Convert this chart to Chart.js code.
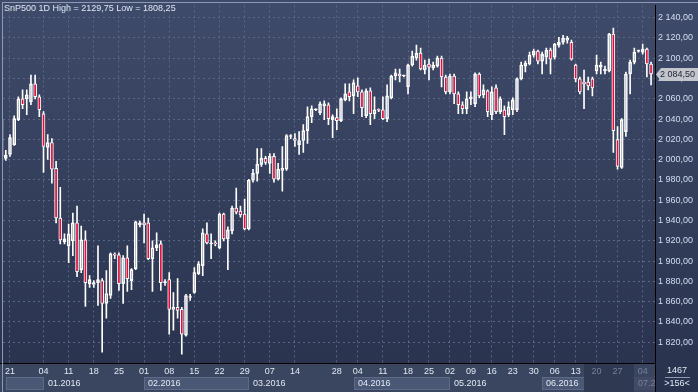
<!DOCTYPE html>
<html>
<head>
<meta charset="utf-8">
<script src="https://cdn.jsdelivr.net/npm/chart.js@4.4.0/dist/chart.umd.min.js"></script>
<style>
  html, body { margin: 0; padding: 0; background: #2c3653; }
  #wrap { width: 698px; height: 392px; }
</style>
</head>
<body>
<div id="wrap"><canvas id="c" width="698" height="392"></canvas></div>
<script>
// daily bars, SnP500 futures, Dec 2015 - Jul 2016 (one entry per bar)
const opens = [
  2003.2, 2001.2, 2005.1, 2014.9, 2039.4, 2060.0, 2060.0, 2057.1, 2074.7, 2062.0,
  2045.3, 2012.0, 2016.9, 1991.4, 1942.5, 1918.9, 1915.0, 1919.9, 1937.6, 1891.5,
  1920.9, 1877.8, 1876.9, 1878.8, 1880.8, 1858.2, 1866.1, 1906.2, 1906.2, 1877.8,
  1903.3, 1880.8, 1892.5, 1935.6, 1937.6, 1937.6, 1902.3, 1913.1, 1917.0, 1878.8,
  1881.7, 1852.4, 1854.3, 1852.4, 1826.9, 1864.1, 1869.0, 1887.6, 1895.5, 1926.8,
  1917.0, 1918.0, 1913.1, 1946.4, 1921.9, 1929.7, 1952.3, 1949.3, 1946.4, 1931.7,
  1979.7, 1986.5, 1995.4, 2001.2, 1996.3, 2003.2, 1980.7, 1989.5, 1990.5, 2022.8,
  2020.8, 2014.9, 2018.9, 2028.6, 2042.4, 2049.2, 2046.3, 2053.1, 2054.1, 2039.4,
  2041.4, 2038.5, 2059.0, 2066.9, 2062.9, 2072.7, 2066.9, 2043.3, 2067.8, 2045.3,
  2049.2, 2049.2, 2040.4, 2061.0, 2082.5, 2084.5, 2082.5, 2071.7, 2093.3, 2100.2,
  2105.1, 2088.4, 2094.3, 2090.4, 2092.3, 2100.2, 2081.5, 2066.9, 2082.5, 2064.9,
  2054.1, 2050.2, 2060.0, 2055.1, 2084.5, 2063.9, 2067.8, 2044.3, 2070.8, 2047.3,
  2049.2, 2044.3, 2049.2, 2049.2, 2079.6, 2092.3, 2094.3, 2103.1, 2107.0, 2097.2,
  2101.1, 2108.0, 2101.1, 2112.9, 2115.8, 2117.8, 2115.8, 2093.3, 2079.6, 2076.6,
  2076.6, 2079.6, 2087.4, 2091.3, 2087.4, 2087.4, 2123.7, 2019.8, 1992.4, 2027.7,
  2084.5, 2096.2, 2107.0, 2106.0, 2109.0, 2094.3
];
const highs = [
  2041.4, 2009.1, 2024.7, 2043.3, 2062.0, 2068.8, 2068.8, 2083.5, 2083.5, 2063.9,
  2047.3, 2024.7, 2020.8, 1998.3, 1972.8, 1926.8, 1936.6, 1947.4, 1954.2, 1934.6,
  1929.7, 1885.7, 1880.8, 1915.0, 1882.7, 1890.6, 1908.2, 1908.2, 1908.2, 1905.3,
  1915.0, 1892.5, 1939.5, 1939.5, 1946.4, 1942.5, 1919.9, 1927.8, 1919.9, 1881.7,
  1888.6, 1869.0, 1882.7, 1854.3, 1867.1, 1867.1, 1893.5, 1899.4, 1931.7, 1937.6,
  1926.8, 1919.9, 1947.4, 1947.4, 1933.7, 1954.2, 1971.9, 1954.2, 1961.1, 1980.7,
  1990.5, 2011.0, 2011.0, 2003.2, 2006.1, 2006.1, 1996.3, 2013.0, 2024.7, 2024.7,
  2025.7, 2027.7, 2034.5, 2052.2, 2053.1, 2050.2, 2057.1, 2058.0, 2056.1, 2044.3,
  2050.2, 2061.0, 2074.7, 2074.7, 2078.6, 2080.6, 2068.8, 2069.8, 2070.8, 2062.0,
  2050.2, 2062.0, 2073.7, 2083.5, 2089.4, 2089.4, 2083.5, 2094.3, 2107.0, 2112.9,
  2110.0, 2098.2, 2099.2, 2096.2, 2102.1, 2102.1, 2083.5, 2084.5, 2084.5, 2066.9,
  2057.1, 2066.9, 2066.9, 2085.5, 2085.5, 2073.7, 2068.8, 2071.7, 2073.7, 2062.0,
  2053.1, 2057.1, 2061.0, 2080.6, 2096.2, 2097.2, 2106.0, 2109.0, 2108.0, 2106.0,
  2110.0, 2110.0, 2114.8, 2120.7, 2122.7, 2121.7, 2117.8, 2094.3, 2081.5, 2088.4,
  2081.5, 2081.5, 2103.1, 2096.2, 2092.3, 2124.5, 2129.75, 2032.6, 2040.4, 2086.4,
  2098.2, 2110.0, 2108.0, 2113.9, 2110.0, 2096.2
];
const lows = [
  2000.3, 1999.3, 2003.2, 2014.0, 2038.5, 2050.2, 2044.3, 2054.1, 2060.0, 2042.4,
  1987.5, 2000.3, 1976.8, 1937.6, 1917.0, 1917.0, 1898.4, 1905.3, 1884.7, 1888.6,
  1855.3, 1873.9, 1873.9, 1856.3, 1810.2, 1843.6, 1863.1, 1902.3, 1871.0, 1858.2,
  1870.0, 1871.9, 1891.5, 1933.7, 1918.0, 1901.3, 1870.0, 1910.2, 1871.0, 1875.9,
  1827.9, 1831.8, 1843.6, 1808.25, 1825.9, 1861.2, 1868.0, 1886.6, 1885.7, 1917.0,
  1902.3, 1915.0, 1912.1, 1919.9, 1891.5, 1926.8, 1946.4, 1943.4, 1930.7, 1930.7,
  1977.7, 1978.7, 1993.4, 1995.4, 1986.5, 1977.7, 1979.7, 1968.9, 1989.5, 2020.8,
  2013.0, 2005.1, 2007.1, 2015.9, 2036.5, 2048.2, 2044.3, 2039.4, 2034.5, 2021.8,
  2029.6, 2037.5, 2058.0, 2058.0, 2045.3, 2062.0, 2042.4, 2041.4, 2034.5, 2040.4,
  2047.3, 2039.4, 2037.5, 2060.0, 2078.6, 2076.6, 2081.5, 2064.9, 2092.3, 2098.2,
  2088.4, 2084.5, 2078.6, 2088.4, 2091.3, 2071.7, 2064.9, 2064.9, 2055.1, 2045.3,
  2045.3, 2045.3, 2054.1, 2052.2, 2061.0, 2061.0, 2042.4, 2039.4, 2045.3, 2045.3,
  2024.7, 2042.4, 2044.3, 2047.3, 2078.6, 2086.4, 2093.3, 2101.1, 2094.3, 2084.5,
  2094.3, 2084.5, 2099.2, 2110.9, 2113.9, 2114.8, 2098.2, 2076.6, 2064.9, 2050.2,
  2068.8, 2062.9, 2084.5, 2084.5, 2084.5, 2086.4, 2007.1, 1990.5, 1991.4, 2022.8,
  2064.9, 2094.3, 2106.0, 2104.1, 2081.5, 2073.7
];
const closes = [
  2039.4, 2004.2, 2021.8, 2040.4, 2060.0, 2054.1, 2063.9, 2074.7, 2062.0, 2049.2,
  2013.0, 2016.9, 1990.5, 1942.5, 1920.9, 1921.9, 1926.8, 1937.6, 1889.6, 1920.9,
  1878.8, 1881.7, 1878.8, 1881.7, 1858.2, 1868.0, 1907.2, 1905.8, 1877.8, 1903.3,
  1882.7, 1891.5, 1938.6, 1937.6, 1935.6, 1902.3, 1913.1, 1916.0, 1878.8, 1879.3,
  1852.4, 1854.3, 1851.4, 1827.9, 1866.1, 1864.6, 1888.6, 1897.4, 1927.8, 1918.0,
  1918.0, 1917.0, 1946.4, 1921.9, 1930.7, 1952.3, 1948.3, 1945.4, 1931.7, 1979.7,
  1986.5, 1995.4, 2001.2, 1997.3, 2003.2, 1980.7, 1990.5, 1991.4, 2023.8, 2023.3,
  2018.9, 2018.9, 2028.6, 2042.4, 2050.2, 2049.2, 2055.1, 2055.1, 2040.4, 2042.4,
  2038.5, 2060.0, 2064.9, 2062.0, 2075.7, 2066.9, 2051.2, 2067.8, 2045.3, 2049.2,
  2048.7, 2040.4, 2062.9, 2082.5, 2085.5, 2082.5, 2082.5, 2093.3, 2102.1, 2105.1,
  2089.4, 2093.3, 2091.3, 2093.3, 2100.2, 2081.5, 2066.9, 2082.5, 2064.9, 2054.1,
  2050.2, 2060.0, 2062.0, 2084.5, 2062.9, 2068.8, 2047.3, 2066.9, 2047.3, 2060.0,
  2042.4, 2052.2, 2059.0, 2079.6, 2093.3, 2095.3, 2103.1, 2107.0, 2097.2, 2104.1,
  2108.0, 2099.2, 2113.9, 2115.8, 2119.7, 2119.7, 2099.2, 2079.6, 2066.9, 2074.7,
  2072.7, 2070.8, 2093.3, 2093.3, 2089.4, 2123.7, 2028.6, 1993.4, 2039.4, 2084.5,
  2096.2, 2106.0, 2107.0, 2109.0, 2094.3, 2084.5
];

// weekly axis labels (bar index of the week start)
const weekIdx = [2, 10, 16, 22, 28, 34, 40, 46, 52, 58, 64, 70, 80, 85, 91, 97, 102, 107, 112, 117, 122, 127, 132, 137, 142, 147, 153];
const weekLabels = ['21', '04', '11', '18', '25', '01', '08', '15', '22', '29', '07', '14', '28', '04', '11', '18', '25', '02', '09', '16', '23', '30', '06', '13', '20', '27', '04'];
// month strip
const monthIdx = [1, 10, 34, 59, 84, 107, 129, 151];
const monthLabels = ['', '01.2016', '02.2016', '03.2016', '04.2016', '05.2016', '06.2016', '07.2016'];
const greyFrom = 139;
const priceTicks = [1820, 1840, 1860, 1880, 1900, 1920, 1940, 1960, 1980, 2000, 2020, 2040, 2060, 2080, 2100, 2120, 2140];

const RED = '#e0103c';
const idx = opens.map((o, i) => i);

function fmtPrice(v) {
  const parts = v.toFixed(2).split('.');
  return parts[0].replace(/\B(?=(\d{3})+(?!\d))/g, ' ') + ',' + parts[1];
}

const stripPlugin = {
  id: 'strip',
  beforeDraw(chart) {
    const { ctx, chartArea: a, scales: { x } } = chart;
    const W = chart.width, H = chart.height;
    const g = ctx.createLinearGradient(0, 0, 0, H);
    g.addColorStop(0, '#3f4b6a');
    g.addColorStop(1, '#28324d');
    ctx.fillStyle = g;
    ctx.fillRect(0, 0, W, H);

    // bottom time strip
    ctx.fillStyle = '#3a4560';
    ctx.fillRect(0, a.bottom, a.right, H - a.bottom);

    ctx.save();
    ctx.beginPath();
    ctx.rect(a.left, a.bottom, a.right - a.left, H - a.bottom);
    ctx.clip();
    monthIdx.forEach((m, k) => {
      const x0 = Math.round(x.getPixelForValue(m));
      const x1 = k + 1 < monthIdx.length ? Math.round(x.getPixelForValue(monthIdx[k + 1])) : a.right;
      if (k % 2 === 0) {
        ctx.fillStyle = '#4b5875';
        ctx.fillRect(x0, 377, x1 - x0, 13);
        ctx.strokeStyle = '#5e6b87';
        ctx.lineWidth = 1;
        ctx.strokeRect(x0 + 0.5, 377.5, x1 - x0 - 1, 12);
      }
    });
    // greyed part of the strip
    const gx0 = Math.round(x.getPixelForValue(greyFrom));
    const gx1 = Math.round(x.getPixelForValue(monthIdx[monthIdx.length - 1]));
    ctx.fillStyle = '#2f3952';
    ctx.fillRect(gx0, a.bottom + 1, gx1 - gx0, H - a.bottom);
    ctx.fillStyle = '#414b66';
    ctx.fillRect(gx1, 377, a.right - gx1, 13);

    ctx.font = '9px "Liberation Sans", Arial, sans-serif';
    ctx.textBaseline = 'middle';
    ctx.textAlign = 'left';
    monthIdx.forEach((m, k) => {
      if (!monthLabels[k]) return;
      ctx.fillStyle = m >= greyFrom ? '#76829a' : '#e2e8f3';
      ctx.fillText(monthLabels[k], Math.round(x.getPixelForValue(m)) + 4, 384);
    });
    ctx.restore();
  },
  afterDraw(chart) {
    const { ctx, chartArea: a, scales: { y } } = chart;
    const H = chart.height;
    ctx.save();
    // frame
    ctx.strokeStyle = '#000';
    ctx.lineWidth = 1;
    ctx.beginPath();
    ctx.moveTo(a.right + 0.5, a.bottom);
    ctx.lineTo(a.right + 0.5, H);
    ctx.moveTo(0, a.bottom + 0.5);
    ctx.lineTo(a.left, a.bottom + 0.5);
    ctx.stroke();
    ctx.strokeStyle = '#8f9ab2';
    ctx.beginPath();
    ctx.moveTo(2, 2.5);
    ctx.lineTo(chart.width, 2.5);
    ctx.moveTo(2.5, 2);
    ctx.lineTo(2.5, H);
    ctx.moveTo(665, 377.5);
    ctx.lineTo(690, 377.5);
    ctx.stroke();

    // title
    ctx.font = '9px "Liberation Sans", Arial, sans-serif';
    ctx.fillStyle = '#dfe6f2';
    ctx.textBaseline = 'middle';
    ctx.textAlign = 'left';
    ctx.fillText('SnP500 1D High = 2129,75 Low = 1808,25', 4, 9);

    // last price tag
    const last = closes[closes.length - 1];
    const ty = Math.round(y.getPixelForValue(last));
    ctx.fillStyle = '#c2c5cc';
    ctx.beginPath();
    ctx.moveTo(a.right + 1, ty + 0.5);
    ctx.lineTo(a.right + 6, ty - 6);
    ctx.lineTo(698, ty - 6);
    ctx.lineTo(698, ty + 7);
    ctx.lineTo(a.right + 6, ty + 7);
    ctx.closePath();
    ctx.fill();
    ctx.fillStyle = '#1c2132';
    ctx.textAlign = 'right';
    ctx.fillText(fmtPrice(last), 695, ty + 0.5);

    // bar counters
    ctx.fillStyle = '#e2e8f3';
    ctx.textAlign = 'center';
    ctx.fillText('1467', 677, 371);
    ctx.fillText('>156<', 677, 384);
    ctx.restore();
  }
};

new Chart(document.getElementById('c'), {
  type: 'bar',
  data: {
    datasets: [
      {
        label: 'upper wick',
        data: idx.map(i => ({ x: i, y: [Math.max(opens[i], closes[i]), highs[i]] })),
        backgroundColor: '#ffffff',
        barThickness: 1,
        grouped: false,
        order: 2
      },
      {
        label: 'lower wick',
        data: idx.map(i => ({ x: i, y: [lows[i], Math.min(opens[i], closes[i])] })),
        backgroundColor: '#ffffff',
        barThickness: 1,
        grouped: false,
        order: 2
      },
      {
        label: 'body',
        data: idx.map(i => ({ x: i, y: [opens[i], closes[i]] })),
        backgroundColor: idx.map(i => closes[i] < opens[i] ? RED : 'rgba(0,0,0,0)'),
        borderColor: '#ffffff',
        borderWidth: 1,
        borderSkipped: false,
        barThickness: 3,
        minBarLength: 1,
        grouped: false,
        order: 1
      }
    ]
  },
  options: {
    responsive: false,
    animation: false,
    devicePixelRatio: 1,
    layout: { padding: { left: 3, top: 3, right: 5, bottom: 0 } },
    plugins: {
      legend: { display: false },
      tooltip: { enabled: false }
    },
    scales: {
      x: {
        type: 'linear',
        min: 0.33,
        max: 155.94,
        offset: false,
        grid: {
          offset: false,
          color: '#5a6684',
          drawTicks: false
        },
        border: { display: true, color: '#000000', width: 1, dash: [2, 3] },
        afterBuildTicks: s => { s.ticks = weekIdx.map(v => ({ value: v })); },
        afterFit: s => { s.height = 29; },
        ticks: {
          autoSkip: false,
          maxRotation: 0,
          padding: 3,
          font: { size: 9, family: '"Liberation Sans", Arial, sans-serif' },
          color: c => (c.tick && c.tick.value >= greyFrom) ? '#76829a' : '#e2e8f3',
          callback: (v, k) => weekLabels[k]
        }
      },
      y: {
        position: 'right',
        min: 1799.5,
        max: 2152.1,
        beginAtZero: false,
        grid: {
          color: '#5a6684',
          drawTicks: false
        },
        border: { display: true, color: '#000000', width: 1, dash: [2, 3] },
        afterBuildTicks: s => { s.ticks = priceTicks.map(v => ({ value: v })); },
        afterFit: s => { s.width = 38; },
        ticks: {
          crossAlign: 'far',
          padding: 0,
          font: { size: 9, family: '"Liberation Sans", Arial, sans-serif' },
          color: '#d3def0',
          callback: v => fmtPrice(v)
        }
      }
    }
  },
  plugins: [stripPlugin]
});
</script>
</body>
</html>
